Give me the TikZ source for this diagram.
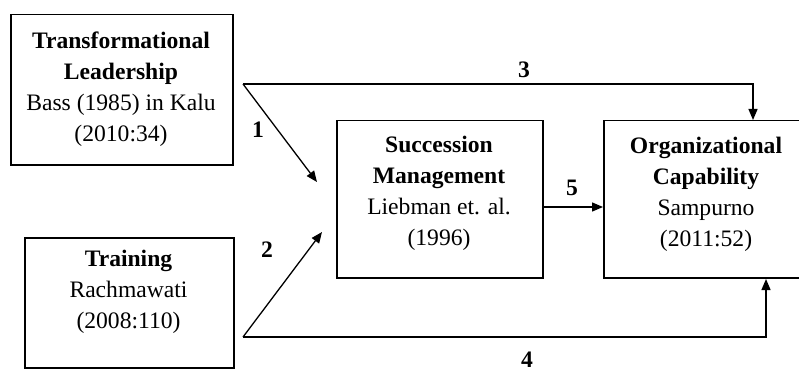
\documentclass[tikz,border=0pt]{standalone}
\usepackage{fontspec}
\setmainfont{Liberation Serif}
\usetikzlibrary{arrows.meta}
\begin{document}
\begin{tikzpicture}[x=1pt,y=-1pt,
  box/.style={draw,line width=1.5pt,rectangle,inner sep=0pt,anchor=north west},
  txt/.style={align=center,inner sep=0pt,font=\fontsize{23.6}{31}\selectfont},
  conn/.style={line width=1.3pt,-{Triangle[length=11pt,width=9pt]}},
  num/.style={inner sep=0pt,font=\fontsize{23.6}{28}\selectfont\bfseries}]
\useasboundingbox (0,0) rectangle (799,374);
% boxes
\node[box,minimum width=222pt,minimum height=150pt] (tl) at (10,14) {};
\node[box,minimum width=209pt,minimum height=130pt] (tr) at (24,237) {};
\node[box,minimum width=206pt,minimum height=157pt] (sm) at (336,120) {};
\node[box,minimum width=207pt,minimum height=157pt] (oc) at (603,120) {};
% texts
\node[txt] (tltext) at (121,89) {\textbf{Transformational}\\\textbf{Leadership}\\Bass (1985) in Kalu\\(2010:34)};
\node[txt] (trtext) at (128.5,292) {\textbf{Training}\\Rachmawati\\(2008:110)};
\node[txt] (smtext) at (439,193) {\textbf{Succession}\\\textbf{Management}\\Liebman et. al.\\(1996)};
\node[txt] (octext) at (706,194) {\textbf{Organizational}\\\textbf{Capability}\\Sampurno\\(2011:52)};
% junctions
\coordinate (j1) at (243,84);
\coordinate (j2) at (243,337);
\coordinate (t1) at (317,182);
\coordinate (t2) at (322,232);
\coordinate (t4) at (766,279);
% connectors
\draw[conn] (j1) -- (t1);
\draw[conn] (j1) -| ([xshift=150pt]oc.north west);
\draw[conn] (j2) -- (t2);
\draw[conn] (j2) -| (t4);
\draw[conn] (sm.east |- 0,207) -- (oc.west |- 0,207);
% labels
\node[num] (l1) at (258,130) {1};
\node[num] (l2) at (267,250) {2};
\node[num] (l3) at (524,70) {3};
\node[num] (l4) at (527,360) {4};
\node[num] (l5) at (572,188) {5};
\end{tikzpicture}
\end{document}
